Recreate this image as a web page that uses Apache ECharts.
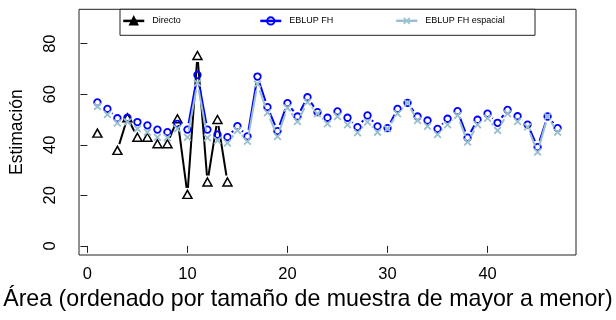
<!DOCTYPE html>
<html>
<head>
<meta charset="utf-8">
<script src="https://cdn.jsdelivr.net/npm/echarts@6/dist/echarts.min.js"></script>
<style>
  html, body { margin: 0; padding: 0; background: #fff; }
  #chart { width: 616px; height: 320px; }
</style>
</head>
<body>
<div id="chart"></div>
<script>
// Area index, ordered by sample size (largest first)
const areas = [1, 2, 3, 4, 5, 6, 7, 8, 9, 10, 11, 12, 13, 14, 15, 16, 17, 18, 19, 20,
  21, 22, 23, 24, 25, 26, 27, 28, 29, 30, 31, 32, 33, 34, 35, 36, 37, 38, 39, 40,
  41, 42, 43, 44, 45, 46, 47];

// Direct estimates (only available for the first areas)
const directo = [44.6, null, 37.8, 50.7, 43.0, 43.0, 40.4, 40.4, 50.3, 20.4,
  75.3, 25.3, 50.0, 25.3, null, null, null, null, null, null,
  null, null, null, null, null, null, null, null, null, null,
  null, null, null, null, null, null, null, null, null, null,
  null, null, null, null, null, null, null];

// Fay-Herriot EBLUP
const eblupFH = [56.8, 54.2, 50.5, 50.7, 49.0, 47.7, 46.0, 45.0, 48.3, 46.0,
  67.6, 46.0, 44.0, 43.0, 47.4, 43.3, 67.0, 54.9, 45.4, 56.5,
  51.2, 58.8, 52.9, 50.7, 53.2, 50.7, 47.0, 51.6, 47.3, 46.6,
  54.2, 56.6, 51.2, 49.6, 46.3, 50.3, 53.3, 42.8, 49.9, 52.3,
  48.7, 53.8, 51.3, 48.0, 39.1, 51.2, 46.6];

// Spatial Fay-Herriot EBLUP
const eblupFHEsp = [55.1, 52.0, 48.6, 49.0, 46.3, 45.0, 43.0, 42.8, 46.3, 43.0,
  64.4, 42.8, 41.7, 40.7, 45.7, 41.4, 64.0, 52.7, 43.3, 54.6,
  49.2, 56.8, 52.3, 48.3, 51.2, 47.9, 44.8, 49.0, 45.0, 46.3,
  52.3, 56.5, 49.6, 47.3, 44.1, 47.9, 51.6, 41.1, 47.9, 50.5,
  45.7, 52.3, 49.2, 47.0, 37.1, 51.2, 45.0];

const seriesNames = ['Directo', 'EBLUP FH', 'EBLUP FH espacial'];
const xTicks = [0, 10, 20, 30, 40];
const yTicks = [0, 20, 40, 60, 80];

const FONT = 'Liberation Sans, Arial, sans-serif';
const COLORS = ['#000000', '#0000ff', '#9ac0cd'];
const CROSS = 'path://M0,1.6 L1.6,0 L5,3.4 L8.4,0 L10,1.6 L6.6,5 L10,8.4 L8.4,10 L5,6.6 L1.6,10 L0,8.4 L3.4,5 Z';
const GAP = 6.5; // blank space left around each point, like plot type "b"

// Legend box geometry and item offsets
const LEGEND_BOX = { x: 120, y: 9.3, w: 415, h: 26 };
const LEGEND_LEFT = [122, 259, 395];
const LEGEND_FILL = ['#000000', 'rgba(0,0,0,0)', '#9ac0cd'];

function toPoints(values) {
  return areas.map((a, i) => [a, values[i] == null ? '-' : values[i]]);
}

function toSegments(values) {
  const segs = [];
  for (let i = 0; i < areas.length - 1; i++) {
    if (values[i] != null && values[i + 1] != null) {
      segs.push([areas[i], values[i], areas[i + 1], values[i + 1]]);
    }
  }
  return segs;
}

function gappedLine(color, width) {
  return function (params, api) {
    const a = api.coord([api.value(0), api.value(1)]);
    const b = api.coord([api.value(2), api.value(3)]);
    const dx = b[0] - a[0], dy = b[1] - a[1];
    const d = Math.hypot(dx, dy);
    if (d <= 2 * GAP) return { type: 'group', children: [] };
    const f = GAP / d;
    return {
      type: 'line',
      shape: { x1: a[0] + f * dx, y1: a[1] + f * dy, x2: b[0] - f * dx, y2: b[1] - f * dy },
      style: { stroke: color, lineWidth: width }
    };
  };
}

function segmentSeries(values, color, width, z) {
  return {
    type: 'custom',
    silent: true,
    z: z,
    renderItem: gappedLine(color, width),
    encode: { x: [0, 2], y: [1, 3] },
    data: toSegments(values)
  };
}

function legendFor(i) {
  return {
    left: LEGEND_LEFT[i],
    top: LEGEND_BOX.y + 7,
    padding: 0,
    z: 10,
    orient: 'horizontal',
    selectedMode: false,
    data: [{
      name: seriesNames[i],
      lineStyle: { color: COLORS[i], opacity: 1, width: 2.5 },
      itemStyle: { color: LEGEND_FILL[i] }
    }],
    itemWidth: 21, itemHeight: 9,
    textStyle: { fontSize: 9, color: '#000', fontFamily: FONT, padding: [0, 0, 0, 3] }
  };
}

const chart = echarts.init(document.getElementById('chart'), null, { renderer: 'canvas' });

chart.setOption({
  animation: false,
  backgroundColor: '#fff',
  textStyle: { fontFamily: FONT },
  grid: {
    left: 77.3, right: 40, top: 9.3, bottom: 65,
    show: true, borderColor: '#222', borderWidth: 1, backgroundColor: 'transparent'
  },
  graphic: [{
    type: 'rect',
    z: 5,
    shape: { x: LEGEND_BOX.x, y: LEGEND_BOX.y, width: LEGEND_BOX.w, height: LEGEND_BOX.h },
    style: { fill: '#fff', stroke: '#222', lineWidth: 1 }
  }],
  legend: [legendFor(0), legendFor(1), legendFor(2)],
  xAxis: {
    type: 'value',
    min: -0.84, max: 48.84,
    name: 'Área (ordenado por tamaño de muestra de mayor a menor)',
    nameLocation: 'middle',
    nameGap: 33,
    nameTextStyle: { fontSize: 23.2, color: '#000', fontFamily: FONT, padding: [0, 39, 0, 0] },
    axisLine: { show: false },
    axisTick: { show: true, customValues: xTicks, length: 7, lineStyle: { color: '#222', width: 1 } },
    axisLabel: { customValues: xTicks, fontSize: 16.5, color: '#000', margin: 11, fontFamily: FONT },
    splitLine: { show: false }
  },
  yAxis: {
    type: 'value',
    min: -3.6, max: 93.6,
    name: 'Estimación',
    nameLocation: 'middle',
    nameRotate: 90,
    nameGap: 53,
    nameTextStyle: { fontSize: 17.5, color: '#000', fontFamily: FONT },
    axisLine: { show: false },
    axisTick: { show: true, customValues: yTicks, length: 7, lineStyle: { color: '#222', width: 1 } },
    axisLabel: { customValues: yTicks, rotate: 90, fontSize: 16.5, color: '#000', margin: 20, fontFamily: FONT },
    splitLine: { show: false }
  },
  series: [
    segmentSeries(directo, COLORS[0], 2, 2),
    segmentSeries(eblupFH, COLORS[1], 2, 3),
    segmentSeries(eblupFHEsp, COLORS[2], 2, 4),
    {
      name: seriesNames[0], type: 'line', z: 2,
      data: toPoints(directo), connectNulls: false,
      symbol: 'triangle', symbolSize: [9, 8], showAllSymbol: true,
      itemStyle: { color: 'rgba(0,0,0,0)', borderColor: COLORS[0], borderWidth: 1.5 },
      lineStyle: { color: COLORS[0], opacity: 0 }
    },
    {
      name: seriesNames[1], type: 'line', z: 3,
      data: toPoints(eblupFH),
      symbol: 'circle', symbolSize: 6.5, showAllSymbol: true,
      itemStyle: { color: 'rgba(0,0,0,0)', borderColor: COLORS[1], borderWidth: 1.8 },
      lineStyle: { color: COLORS[1], opacity: 0 }
    },
    {
      name: seriesNames[2], type: 'line', z: 4,
      data: toPoints(eblupFHEsp),
      symbol: CROSS, symbolSize: 8, showAllSymbol: true,
      itemStyle: { color: COLORS[2] },
      lineStyle: { color: COLORS[2], opacity: 0 }
    }
  ]
});
</script>
</body>
</html>
